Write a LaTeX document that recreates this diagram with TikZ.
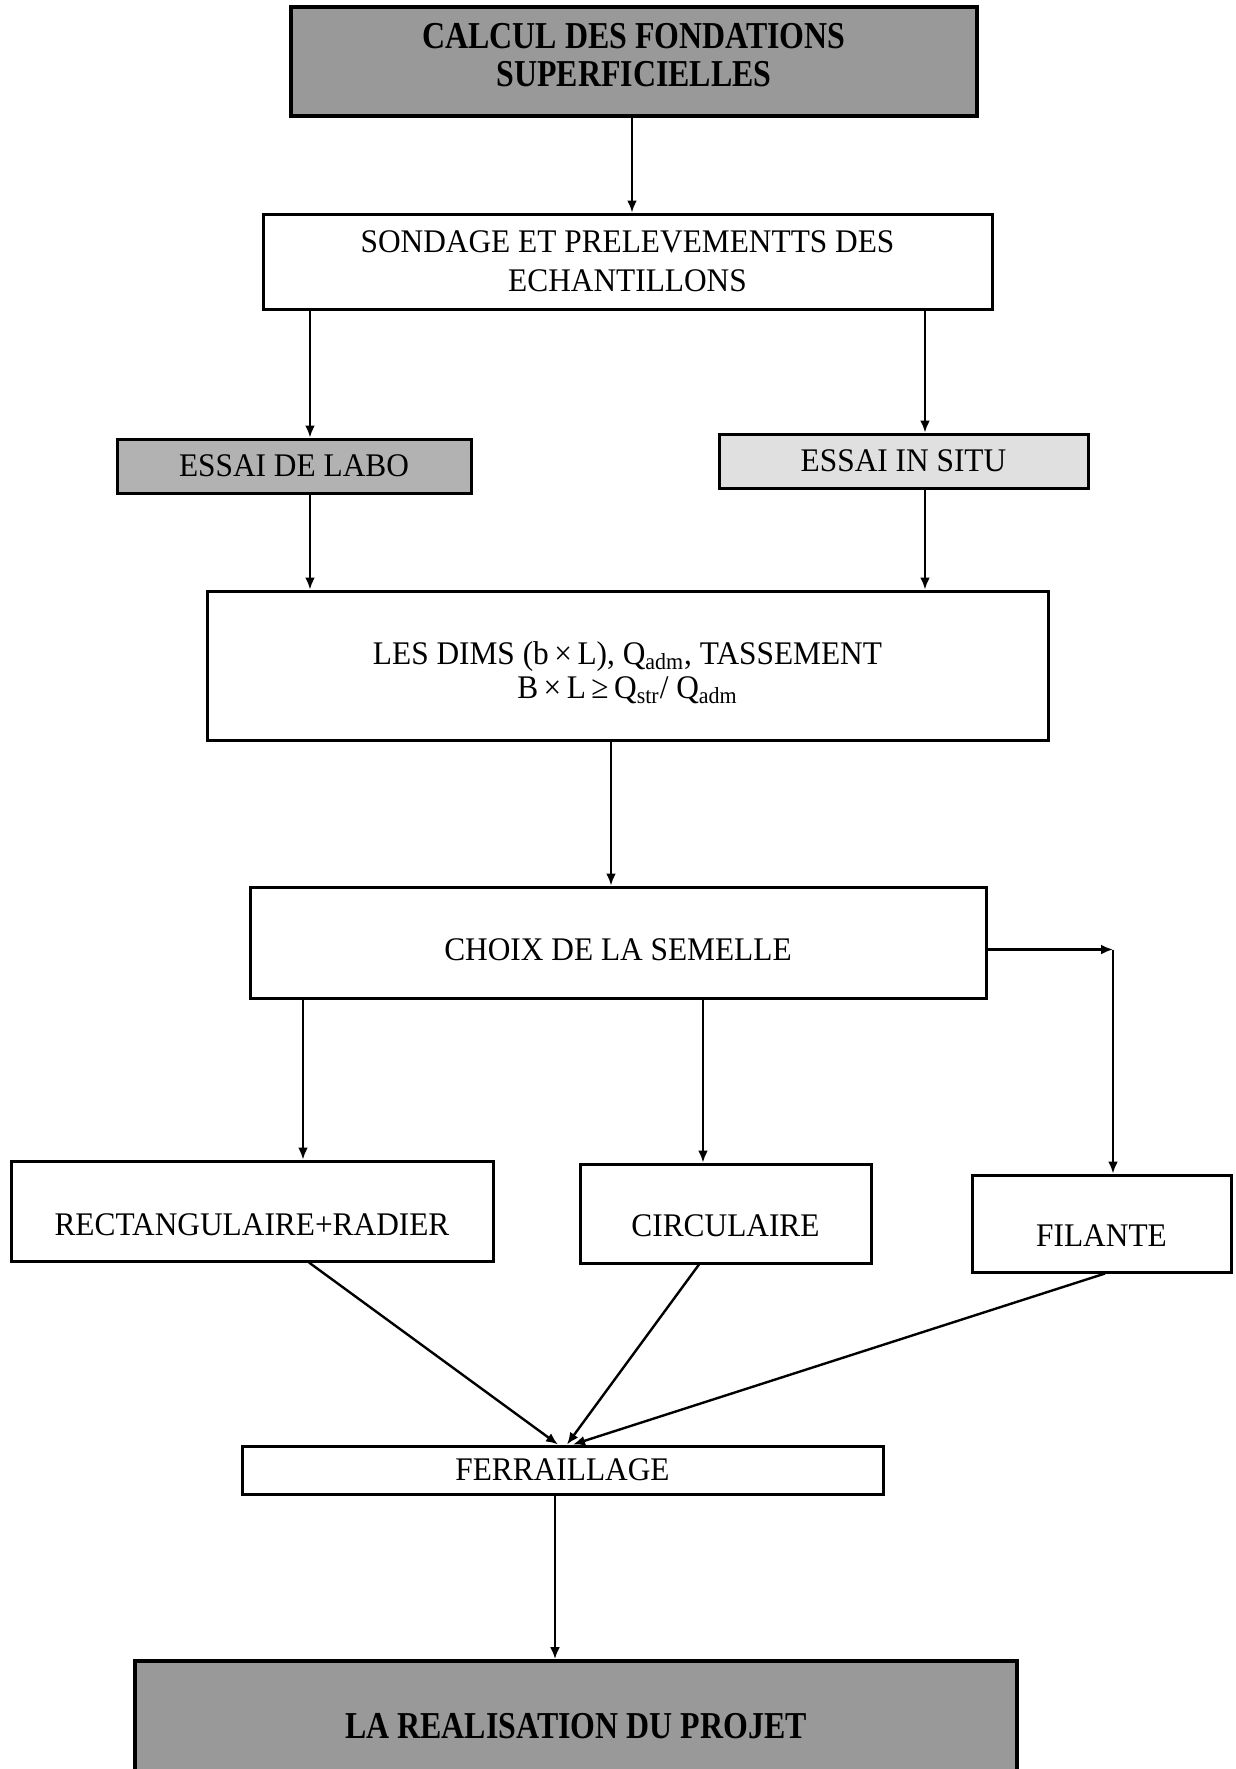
\documentclass[tikz,border=0pt]{standalone}
\usepackage{fontspec}
\setmainfont{Liberation Serif}
\newfontfamily\boxfont[FakeStretch=0.95]{Liberation Serif}
\newfontfamily\headfont[FakeStretch=0.84]{Liberation Serif}
\usetikzlibrary{arrows.meta}

\begin{document}
\begin{tikzpicture}[x=0.5pt,y=-0.5pt,
  box/.style={draw, line width=1.5pt, rectangle, inner sep=0pt},
  txt/.style={font=\boxfont\fontsize{16.5}{19.5}\selectfont, align=center, inner sep=0pt},
  head/.style={box, line width=1.9pt, fill=black!40},
  headtxt/.style={font=\headfont\bfseries\fontsize{19}{19}\selectfont, align=center, inner sep=0pt},
  arr/.style={line width=1.2pt, -{Latex[length=6pt,width=5pt]}},
]
\useasboundingbox (0,0) rectangle (1236,1769);

% boxes (sizes in pt = half the pixel size)
\node[head, minimum width=343pt, minimum height=54.5pt,
      label={[headtxt, name=titletxt, yshift=3.25pt]center:CALCUL DES FONDATIONS\\SUPERFICIELLES}]
  (title) at (634,61.5) {};

\node[box, minimum width=364.5pt, minimum height=47.5pt,
      label={[txt, name=sondagetxt]center:SONDAGE ET PRELEVEMENTTS DES\\ECHANTILLONS}]
  (sondage) at (627.5,261.5) {};

\node[box, fill=black!30, minimum width=177pt, minimum height=27pt,
      label={[txt, name=labotxt]center:ESSAI DE LABO}]
  (labo) at (294,466) {};

\node[box, fill=black!12, minimum width=184.5pt, minimum height=27pt,
      label={[txt, name=insitutxt]center:ESSAI IN SITU}]
  (insitu) at (903.5,461) {};

\node[box, minimum width=420.5pt, minimum height=74.5pt,
      label={[txt, name=dimstxt, yshift=-3.75pt, font=\boxfont\fontsize{16.5}{17}\selectfont]center:LES DIMS (b\,×\,L), Q\textsubscript{adm}, TASSEMENT\\B\,×\,L\,≥\,Q\textsubscript{str}/ Q\textsubscript{adm}}]
  (dims) at (627.5,665.5) {};

\node[box, minimum width=368pt, minimum height=55.5pt,
      label={[txt, name=choixtxt, yshift=-3.75pt]center:CHOIX DE LA SEMELLE}]
  (choix) at (618,942.5) {};

\node[box, minimum width=241pt, minimum height=50pt,
      label={[txt, name=recttxt, yshift=-7pt]center:RECTANGULAIRE+RADIER}]
  (rect) at (252,1211) {};

\node[box, minimum width=145.5pt, minimum height=49.5pt,
      label={[txt, name=circtxt, yshift=-6pt]center:CIRCULAIRE}]
  (circ) at (725.5,1213.5) {};

\node[box, minimum width=129.5pt, minimum height=48.5pt,
      label={[txt, name=filantetxt, yshift=-6pt]center:FILANTE}]
  (filante) at (1101.5,1223.5) {};

\node[box, minimum width=320.5pt, minimum height=24pt,
      label={[txt, name=ferrtxt]center:FERRAILLAGE}]
  (ferr) at (562.5,1470) {};

\node[head, minimum width=441pt, minimum height=65.5pt,
      label={[headtxt, name=realtxt]center:LA REALISATION DU PROJET}]
  (real) at (576,1726.5) {};

% connector columns
\coordinate (xL) at (310,0);
\coordinate (xR) at (925,0);
\coordinate (xM) at (611,0);
\coordinate (xA) at (303,0);
\coordinate (xB) at (703,0);
\coordinate (xF) at (555,0);
\coordinate (xT) at (632,0);
\coordinate (bend) at (1113,949.5);
\coordinate (s1) at (309,0);
\coordinate (s2) at (699,0);
\coordinate (s3) at (1105,0);
\coordinate (e1) at (558,0);
\coordinate (e2) at (567,0);
\coordinate (e3) at (573,0);

% connectors
\draw[arr] (title.south -| xT) -- (sondage.north -| xT);
\draw[arr] (sondage.south -| xL) -- (labo.north -| xL);
\draw[arr] (sondage.south -| xR) -- (insitu.north -| xR);
\draw[arr] (labo.south -| xL) -- (dims.north -| xL);
\draw[arr] (insitu.south -| xR) -- (dims.north -| xR);
\draw[arr] (dims.south -| xM) -- (choix.north -| xM);
\draw[arr] (choix.south -| xA) -- (rect.north -| xA);
\draw[arr] (choix.south -| xB) -- (circ.north -| xB);
\draw[arr] (choix.east |- bend) -- (bend);
\draw[arr] (bend) -- (filante.north -| bend);
\draw[arr] (rect.south -| s1) -- (ferr.north -| e1);
\draw[arr] (circ.south -| s2) -- (ferr.north -| e2);
\draw[arr] (filante.south -| s3) -- (ferr.north -| e3);
\draw[arr] (ferr.south -| xF) -- (real.north -| xF);
\end{tikzpicture}
\end{document}
